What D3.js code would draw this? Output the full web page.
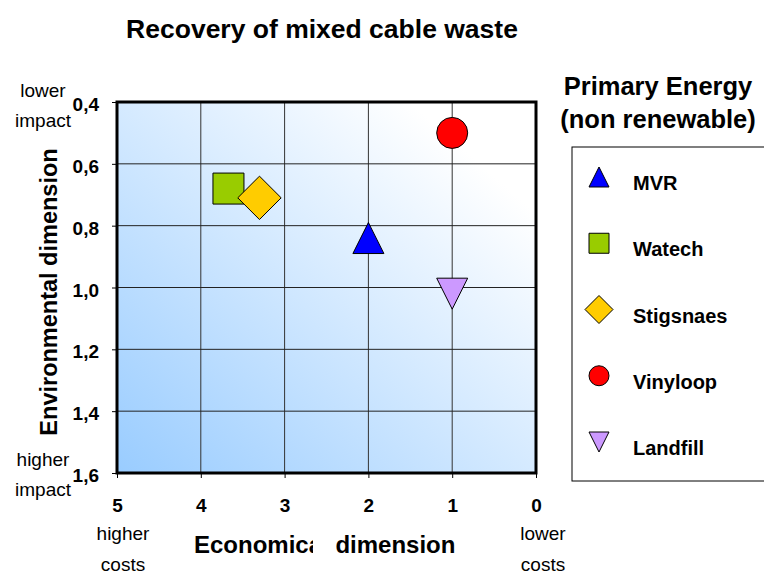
<!DOCTYPE html>
<html>
<head>
<meta charset="utf-8">
<script src="https://cdn.jsdelivr.net/npm/d3@7"></script>
<style>
  body { margin: 0; background: #fff; }
  svg { font-family: "Liberation Sans", Arial, sans-serif; }
</style>
</head>
<body>
<div id="grafico"></div>
<script>
// Datos
const procesos = ["MVR", "Watech", "Stigsnaes", "Vinyloop", "Landfill"];
const economico = [2, 3.67, 3.3, 1, 1];
const ambiental = [0.84, 0.68, 0.71, 0.5, 1.02];
const formas = ["triUp", "square", "diamond", "circle", "triDown"];
const colores = ["#0000FF", "#99CC00", "#FFCC00", "#FF0000", "#CC99FF"];
const ticksX = [5, 4, 3, 2, 1, 0];
const ticksY = [0.4, 0.6, 0.8, 1.0, 1.2, 1.4, 1.6];

const ancho = 764, alto = 574;
const izq = 117, der = 536, arriba = 102, abajo = 473;

const svg = d3.select("#grafico").append("svg")
  .attr("width", ancho).attr("height", alto);

const x = d3.scaleLinear().domain([5, 0]).range([izq, der]);
const y = d3.scaleLinear().domain([0.4, 1.6]).range([arriba, abajo]);

// Degradado del fondo
const defs = svg.append("defs");
const grad = defs.append("linearGradient").attr("id", "fondo")
  .attr("x1", "0%").attr("y1", "100%").attr("x2", "100%").attr("y2", "0%");
grad.append("stop").attr("offset", "0%").attr("stop-color", "#99CCFF");
grad.append("stop").attr("offset", "85%").attr("stop-color", "#FFFFFF");
grad.append("stop").attr("offset", "100%").attr("stop-color", "#FFFFFF");

svg.append("rect")
  .attr("x", izq).attr("y", arriba)
  .attr("width", der - izq).attr("height", abajo - arriba)
  .attr("fill", "url(#fondo)");

// Rejilla
svg.append("g").selectAll("line").data(ticksX).join("line")
  .attr("x1", d => x(d)).attr("x2", d => x(d))
  .attr("y1", arriba).attr("y2", abajo)
  .attr("stroke", "#333").attr("stroke-width", 1);
svg.append("g").selectAll("line").data(ticksY).join("line")
  .attr("x1", izq).attr("x2", der)
  .attr("y1", d => y(d)).attr("y2", d => y(d))
  .attr("stroke", "#222").attr("stroke-width", 1);

// Ejes
const fmtY = d => d3.format(".1f")(d).replace(".", ",");
const ejeX = svg.append("g").attr("transform", `translate(0,${abajo})`)
  .call(d3.axisBottom(x).tickValues(ticksX).tickSize(5).tickPadding(34).tickFormat(d3.format("d")));
const ejeY = svg.append("g").attr("transform", `translate(${izq},0)`)
  .call(d3.axisLeft(y).tickValues(ticksY).tickSize(5).tickPadding(13).tickFormat(fmtY));
[ejeX, ejeY].forEach(g => {
  g.select(".domain").attr("stroke", "#000");
  g.selectAll(".tick line").attr("stroke", "#000");
  g.selectAll("text").attr("font-size", 19).attr("font-weight", "bold")
    .attr("font-family", "Liberation Sans, Arial, sans-serif").attr("fill", "#000");
});
ejeX.selectAll("text").attr("dy", "0");
ejeY.selectAll("text").attr("dy", "0.45em");

// Marco grueso
svg.append("rect")
  .attr("x", izq).attr("y", arriba)
  .attr("width", der - izq).attr("height", abajo - arriba)
  .attr("fill", "none").attr("stroke", "#000").attr("stroke-width", 3);

// Simbolos
function simbolo(forma, s) {
  if (forma === "circle") return d3.symbol(d3.symbolCircle, s * s * Math.PI / 4)();
  if (forma === "square") return `M${-s/2},${-s/2}h${s}v${s}h${-s}Z`;
  if (forma === "diamond") return `M0,${-s*0.7}L${s*0.7},0L0,${s*0.7}L${-s*0.7},0Z`;
  if (forma === "triUp") return `M0,${-s/2}L${s/2},${s/2}L${-s/2},${s/2}Z`;
  if (forma === "triDown") return `M0,${s/2}L${s/2},${-s/2}L${-s/2},${-s/2}Z`;
}

svg.append("g").selectAll("path").data(procesos).join("path")
  .attr("transform", (d, i) => `translate(${x(economico[i])},${y(ambiental[i])})`)
  .attr("d", (d, i) => simbolo(formas[i], 31))
  .attr("fill", (d, i) => colores[i])
  .attr("stroke", "#000").attr("stroke-width", 1);

// Titulo
svg.append("text").attr("x", 322).attr("y", 38)
  .attr("text-anchor", "middle").attr("font-size", 26.5).attr("font-weight", "bold")
  .text("Recovery of mixed cable waste");

// Etiquetas de ejes
svg.append("text")
  .attr("transform", "translate(57,292) rotate(-90)")
  .attr("text-anchor", "middle").attr("font-size", 23.5).attr("font-weight", "bold")
  .text("Environmental dimension");

svg.append("text").attr("x", 194).attr("y", 553)
  .attr("font-size", 24).attr("font-weight", "bold")
  .text("Economical dimension");
// el recorte de la "l" del original
svg.append("rect").attr("x", 313).attr("y", 528).attr("width", 22).attr("height", 30).attr("fill", "#fff");

// Notas de los extremos
const notas = [
  ["lower", 43, 97], ["impact", 43, 127],
  ["higher", 43, 466], ["impact", 43, 496],
  ["higher", 123, 540], ["costs", 123, 571],
  ["lower", 543, 540], ["costs", 543, 571]
];
svg.append("g").selectAll("text").data(notas).join("text")
  .attr("x", d => d[1]).attr("y", d => d[2])
  .attr("text-anchor", "middle").attr("font-size", 19)
  .text(d => d[0]);

// Leyenda
svg.append("text").attr("x", 658).attr("y", 95)
  .attr("text-anchor", "middle").attr("font-size", 25.5).attr("font-weight", "bold")
  .text("Primary Energy");
svg.append("text").attr("x", 658).attr("y", 128)
  .attr("text-anchor", "middle").attr("font-size", 25.5).attr("font-weight", "bold")
  .text("(non renewable)");

svg.append("rect").attr("x", 572).attr("y", 147)
  .attr("width", 200).attr("height", 334)
  .attr("fill", "#fff").attr("stroke", "#000").attr("stroke-width", 1);

const filaY = d3.scalePoint().domain(procesos).range([190, 455]);
const leyenda = svg.append("g").selectAll("g").data(procesos).join("g")
  .attr("transform", d => `translate(0,${filaY(d)})`);
leyenda.append("path")
  .attr("transform", "translate(599,-13)")
  .attr("d", (d, i) => simbolo(formas[i], 20))
  .attr("fill", (d, i) => colores[i])
  .attr("stroke", "#000").attr("stroke-width", 1);
leyenda.append("text").attr("x", 633).attr("y", 0)
  .attr("font-size", 20).attr("font-weight", "bold")
  .text(d => d);
</script>
</body>
</html>
